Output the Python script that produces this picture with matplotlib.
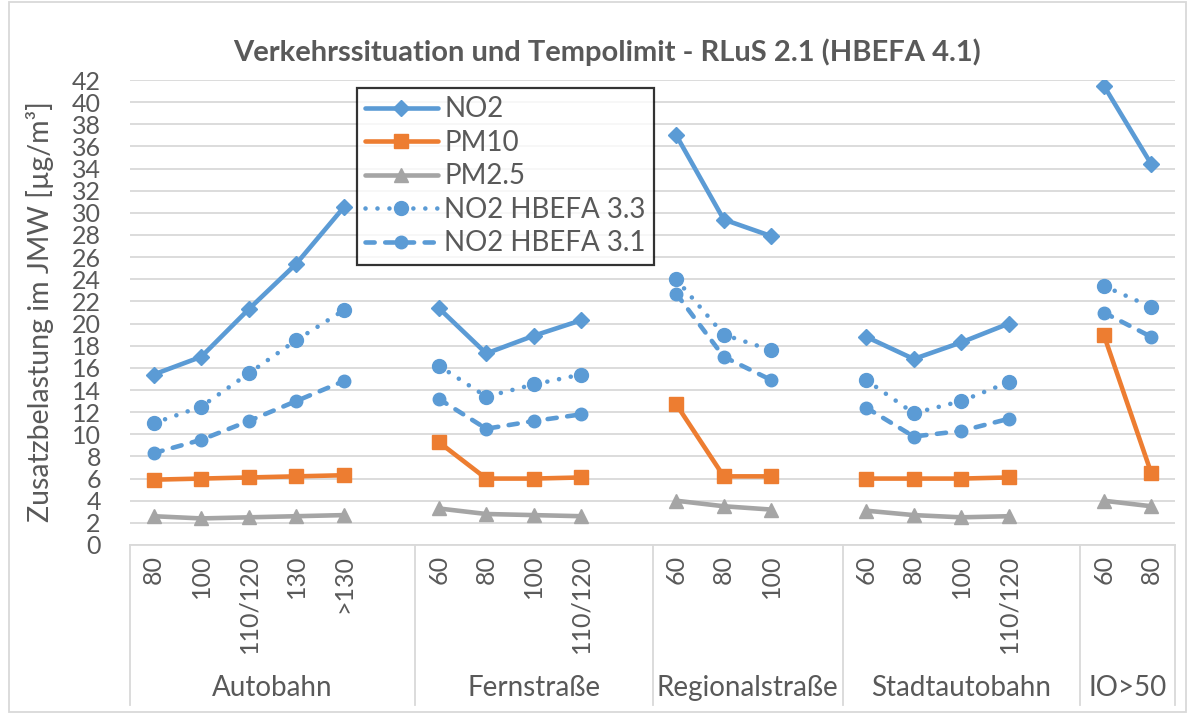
import matplotlib
matplotlib.use("Agg")
import matplotlib.pyplot as plt
import matplotlib.transforms as mtransforms
from matplotlib.patches import Rectangle
import numpy as np

# ---------------- data ----------------
groups = ["Autobahn", "Fernstraße", "Regionalstraße", "Stadtautobahn", "IO>50"]
speed_labels = [
    ["80", "100", "110/120", "130", ">130"],
    ["60", "80", "100", "110/120"],
    ["60", "80", "100"],
    ["60", "80", "100", "110/120"],
    ["60", "80"],
]
no2 = [
    [15.4, 17.0, 21.3, 25.4, 30.5],
    [21.4, 17.3, 18.9, 20.3],
    [37.0, 29.4, 27.9],
    [18.8, 16.8, 18.3, 20.0],
    [41.5, 34.4],
]
pm10 = [
    [5.9, 6.0, 6.1, 6.2, 6.3],
    [9.3, 6.0, 6.0, 6.1],
    [12.7, 6.2, 6.2],
    [6.0, 6.0, 6.0, 6.1],
    [19.0, 6.5],
]
pm25 = [
    [2.6, 2.4, 2.5, 2.6, 2.7],
    [3.3, 2.8, 2.7, 2.6],
    [4.0, 3.5, 3.2],
    [3.1, 2.7, 2.5, 2.6],
    [4.0, 3.5],
]
no2_hb33 = [
    [11.0, 12.5, 15.5, 18.5, 21.2],
    [16.2, 13.4, 14.5, 15.4],
    [24.0, 19.0, 17.6],
    [14.9, 11.9, 13.0, 14.7],
    [23.4, 21.5],
]
no2_hb31 = [
    [8.3, 9.5, 11.2, 13.0, 14.8],
    [13.2, 10.5, 11.2, 11.8],
    [22.7, 17.0, 14.9],
    [12.4, 9.8, 10.3, 11.4],
    [21.0, 18.8],
]
yticks = list(range(0, 43, 2))

title = "Verkehrssituation und Tempolimit - RLuS 2.1 (HBEFA 4.1)"
ylabel = "Zusatzbelastung im JMW [µg/m³]"

# ---------------- style ----------------
plt.rcParams["font.family"] = ["Lato", "DejaVu Sans"]
TXT = "#595959"
GRID = "#D9D9D9"
BLUE = "#5B9BD5"
ORANGE = "#ED7D31"
GRAY = "#A5A5A5"
FS = 18
FS2 = 20

W, H = 1194, 713
fig = plt.figure(figsize=(W / 100, H / 100), dpi=100)
L, R, T, B = 130, 1175, 80, 545
ax = fig.add_axes([L / W, 1 - B / H, (R - L) / W, (B - T) / H])

# positions: one empty category between groups
positions = []
sep_x = []
p = 0
for gi, labs in enumerate(speed_labels):
    pos = list(range(p, p + len(labs)))
    positions.append(pos)
    p += len(labs)
    if gi < len(speed_labels) - 1:
        sep_x.append(p + 0.5)  # boundary after gap category
        p += 1
n_cat = p

series = [
    (no2, "NO2", BLUE, "-", "D", 8),
    (pm10, "PM10", ORANGE, "-", "s", 10),
    (pm25, "PM2.5", GRAY, "-", "^", 10),
    (no2_hb33, "NO2 HBEFA 3.3", BLUE, (0, (0.01, 2.6)), "o", 10),
    (no2_hb31, "NO2 HBEFA 3.1", BLUE, (0, (2.0, 2.3)), "o", 9),
]
handles = []
for data, name, col, ls, mk, ms in series:
    for gi, vals in enumerate(data):
        ln, = ax.plot(positions[gi], vals, color=col, lw=3.3, ls=ls, marker=mk,
                      ms=ms, mfc=col, mec=col, dash_capstyle="round",
                      solid_capstyle="round", solid_joinstyle="round", zorder=3,
                      label=name if gi == 0 else None)
        if gi == 0:
            handles.append(ln)

ax.set_xlim(-0.5, n_cat - 0.5)
ax.set_ylim(0, 42)
ax.set_yticks(yticks)
ax.set_yticklabels([str(v) for v in yticks], fontsize=FS, color=TXT)
ax.tick_params(axis="y", length=0, pad=21)
ax.grid(axis="y", color=GRID, lw=1.3, zorder=0)
ax.set_axisbelow(True)
for s in ["top", "right", "left"]:
    ax.spines[s].set_visible(False)
ax.spines["bottom"].set_color(GRID)
ax.spines["bottom"].set_linewidth(1.3)

all_pos = [x for pos in positions for x in pos]
all_labs = [l for labs in speed_labels for l in labs]
ax.set_xticks(all_pos)
ax.set_xticklabels(all_labs, rotation=90, fontsize=FS, color=TXT, va="top", ha="center")
ax.tick_params(axis="x", length=0, pad=7)

trans = mtransforms.blended_transform_factory(ax.transData, ax.transAxes)
y_bot = (B - 705) / (B - T)
for x in [-0.5] + sep_x + [n_cat - 0.5]:
    ax.plot([x, x], [0, y_bot], color=GRID, lw=1.3, transform=trans, clip_on=False)

bounds = [-0.5] + sep_x + [n_cat - 0.5]
y_grp = (B - 688) / (B - T)
for gi, g in enumerate(groups):
    cx = (bounds[gi] + bounds[gi + 1]) / 2
    ax.text(cx, y_grp, g, transform=trans, ha="center", va="center", fontsize=FS2, color=TXT)

# legend
leg = ax.legend(handles=handles, loc="upper left",
                bbox_to_anchor=((357 - L) / (R - L), (B - 88) / (B - T)),
                fontsize=FS2, frameon=True, fancybox=False, edgecolor="black",
                handlelength=2.6, handletextpad=0.25, labelspacing=0.27,
                borderpad=0.3, borderaxespad=0, numpoints=1)
leg.get_frame().set_linewidth(1.6)
for t in leg.get_texts():
    t.set_color(TXT)

fig.text(607 / W, 1 - 52 / H, title, ha="center", va="center", fontsize=21,
         fontweight="bold", color=TXT)
fig.text(40 / W, 1 - 312 / H, ylabel, ha="center", va="center", rotation=90,
         fontsize=20.5, color=TXT)

fig.patches.append(Rectangle((9 / W, 1 / H), 1177 / W, 710 / H, transform=fig.transFigure,
                             fill=False, edgecolor=GRID, lw=1.3))

fig.savefig("out.png", dpi=100)
